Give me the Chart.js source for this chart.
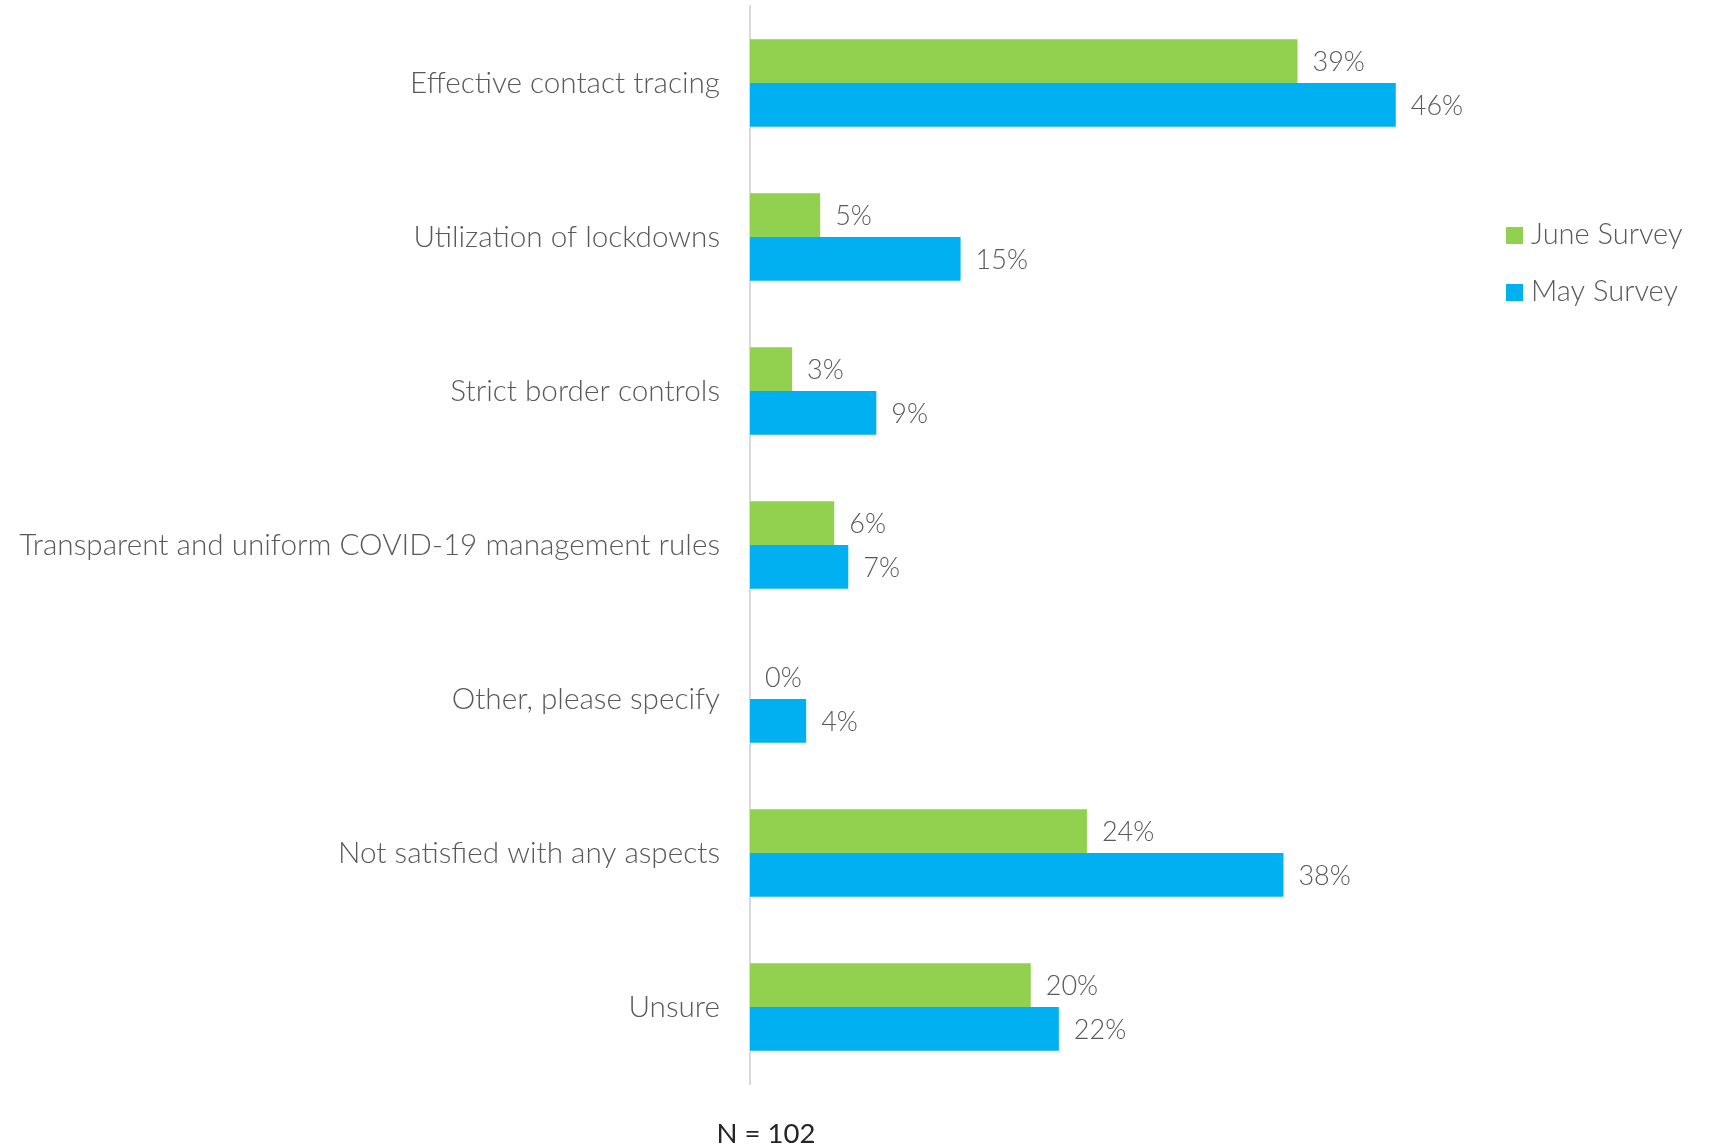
<!DOCTYPE html>
<html lang="en">
<head>
    <meta charset="UTF-8">
    <title>contact tracing survey</title>
    <style>
        body { margin: 0; background: #fff; }
        .chart_container { width: 1711px; height: 1148px; }
    </style>
</head>
<body>
    <div class="chart_container">
        <canvas class="surveyChart"></canvas>
    </div>
</body>

<script src="https://cdn.jsdelivr.net/npm/chart.js"></script>
<script>
    const categories = [
        "Effective contact tracing",
        "Utilization of lockdowns",
        "Strict border controls",
        "Transparent and uniform COVID-19 management rules",
        "Other, please specify",
        "Not satisfied with any aspects",
        "Unsure"
    ];
    const juneValues = [39, 5, 3, 6, 0, 24, 20];
    const mayValues = [46, 15, 9, 7, 4, 38, 22];
    const seriesNames = ["June Survey", "May Survey"];
    const footNote = "N = 102";

    const fontName = "Lato, 'Open Sans', sans-serif";
    const grey = "#595959";

    // value labels to the right of each bar
    const barLabels = {
        id: "barLabels",
        afterDatasetsDraw(chart) {
            const ctx = chart.ctx;
            ctx.save();
            ctx.font = "300 27px " + fontName;
            ctx.fillStyle = grey;
            ctx.textBaseline = "middle";
            chart.data.datasets.forEach((ds, i) => {
                chart.getDatasetMeta(i).data.forEach((bar, j) => {
                    ctx.fillText(ds.data[j] + "%", bar.x + 15, bar.y + 1);
                });
            });
            ctx.restore();
        }
    };

    // legend at the right and N note at the bottom
    const extras = {
        id: "extras",
        afterDraw(chart) {
            const ctx = chart.ctx;
            ctx.save();
            ctx.font = "300 29px " + fontName;
            ctx.textBaseline = "middle";
            chart.data.datasets.forEach((ds, i) => {
                const y = 235 + i * 57;
                ctx.fillStyle = ds.backgroundColor;
                ctx.fillRect(1506, y - 8, 17, 17);
                ctx.fillStyle = grey;
                ctx.fillText(ds.label, 1531, y);
            });
            ctx.font = "27.5px " + fontName;
            ctx.fillStyle = "#262626";
            ctx.textAlign = "center";
            ctx.fillText(footNote, 766, 1134);
            ctx.restore();
        }
    };

    const surveyChart = new Chart(document.querySelector(".surveyChart"), {
        type: "bar",
        data: {
            labels: categories,
            datasets: [
                { label: seriesNames[0], data: juneValues, backgroundColor: "#92D050" },
                { label: seriesNames[1], data: mayValues, backgroundColor: "#00B0F0" }
            ]
        },
        options: {
            indexAxis: "y",
            responsive: true,
            maintainAspectRatio: false,
            animation: false,
            layout: { padding: { top: 6, right: 231, bottom: 64, left: 0 } },
            datasets: { bar: { categoryPercentage: 0.567, barPercentage: 1.0 } },
            scales: {
                x: {
                    min: 0, max: 52,
                    display: false,
                    grid: { display: false }
                },
                y: {
                    grid: { display: false, drawTicks: false },
                    border: { display: true, color: "#d9d9d9", width: 2 },
                    afterFit(scale) {
                        scale.width = 750;
                        scale.paddingTop = 0;
                        scale.paddingBottom = 0;
                    },
                    ticks: {
                        padding: 30,
                        color: grey,
                        font: { family: fontName, size: 29.7, weight: 300 }
                    }
                }
            },
            plugins: {
                legend: { display: false },
                tooltip: { enabled: false }
            }
        },
        plugins: [barLabels, extras]
    });
</script>
</html>
